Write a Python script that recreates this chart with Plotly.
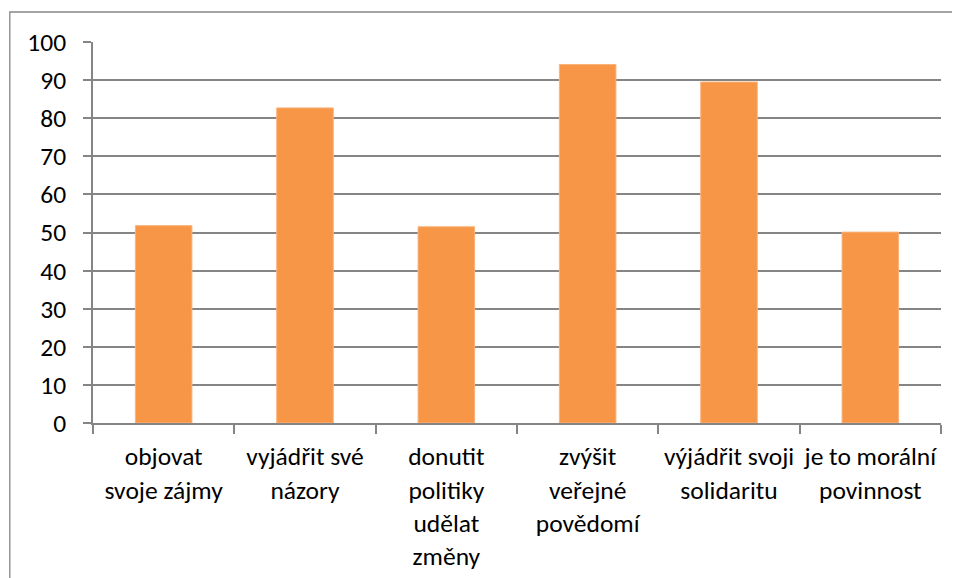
import plotly.graph_objects as go

categories = [
    "objovat<br>svoje zájmy",
    "vyjádřit své<br>názory",
    "donutit<br>politiky<br>udělat<br>změny",
    "zvýšit<br>veřejné<br>povědomí",
    "výjádřit svoji<br>solidaritu",
    "je to morální<br>povinnost",
]
values = [51.8, 82.7, 51.5, 94.1, 89.5, 50.1]
y_ticks = [0, 10, 20, 30, 40, 50, 60, 70, 80, 90, 100]

GRID = "#858585"
FONT = "Carlito, Lato, sans-serif"

fig = go.Figure(
    go.Bar(
        x=categories,
        y=values,
        marker=dict(color="#F79646", line=dict(color="#FAB27A", width=1)),
        width=0.4,
    )
)

fig.update_layout(
    width=960,
    height=578,
    margin=dict(l=84.7, r=27.3, t=33.7, b=163.3),
    paper_bgcolor="white",
    plot_bgcolor="white",
    font=dict(family=FONT, size=25.5, color="#000000"),
    showlegend=False,
    shapes=[
        dict(
            type="rect",
            xref="paper",
            yref="paper",
            x0=-0.0981,
            x1=1.2,
            y0=-0.6,
            y1=1.0787,
            line=dict(color="#868686", width=1.3),
            fillcolor="rgba(0,0,0,0)",
            layer="below",
        )
    ],
)

fig.update_yaxes(
    range=[0, 100],
    tickvals=y_ticks,
    ticktext=[str(v) for v in y_ticks],
    showgrid=True,
    gridcolor=GRID,
    gridwidth=1.5,
    showline=True,
    linecolor=GRID,
    linewidth=1.5,
    ticks="outside",
    ticklen=8,
    tickcolor=GRID,
    tickwidth=1.5,
    zeroline=False,
    ticklabelstandoff=12,
)

fig.update_xaxes(
    type="category",
    showgrid=False,
    showline=True,
    linecolor=GRID,
    linewidth=1.5,
    ticks="outside",
    tickson="boundaries",
    ticklen=9,
    tickcolor=GRID,
    tickwidth=1.5,
    tickangle=0,
    ticklabelstandoff=10,
)

fig.write_html("out.html")
